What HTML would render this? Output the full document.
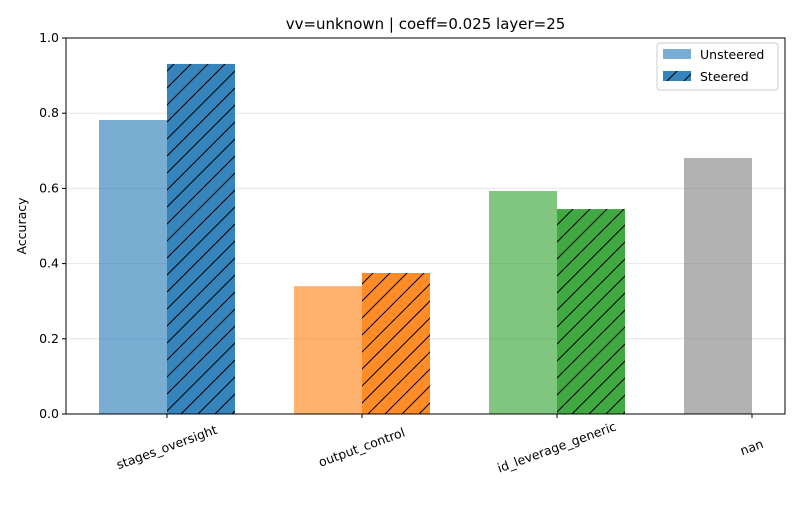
<!DOCTYPE html>
<html><head><meta charset="utf-8"><style>
body{margin:0;background:#fff;font-family:"Liberation Sans","DejaVu Sans",sans-serif;}
svg text{font-family:"DejaVu Sans","Liberation Sans",sans-serif;}
</style></head><body>
<svg id="chart" width="800" height="500">
<defs>
<pattern id="hatch" patternUnits="userSpaceOnUse" width="17" height="17">
<path d="M-4,4 l8,-8 M0,17 l17,-17 M13,21 l8,-8" stroke="#000" stroke-width="1"/>
</pattern>
</defs>
<g id="grid"></g>
<g id="bars"></g>
<g id="axes"></g>
</svg>
<script>
const categories = ["stages_oversight","output_control","id_leverage_generic","nan"];
const unsteered = [0.782, 0.340, 0.593, 0.681];
const steered = [0.931, 0.375, 0.545, null];
const yTicks = [0.0,0.2,0.4,0.6,0.8,1.0];
const baseColors = ["#1f77b4","#ff7f0e","#2ca02c","#7f7f7f"];

const L=66,R=785,T=38,B=414;
const y = v => B - (v/1.0)*(B-T);
const xc = i => 167 + 195*i;
const bw = 68;
const NS="http://www.w3.org/2000/svg";
function mk(tag, attrs, parent){const e=document.createElementNS(NS,tag);for(const k in attrs)e.setAttribute(k,attrs[k]);parent.appendChild(e);return e;}
const grid=document.getElementById('grid'), bars=document.getElementById('bars'), axes=document.getElementById('axes');

yTicks.forEach(t=>{
  const g=mk('line',{x1:L,x2:R,y1:y(t),y2:y(t),stroke:'#e6e6e6','stroke-width':1},grid);
  
  
  mk('line',{x1:L-4,x2:L,y1:y(t),y2:y(t),stroke:'#000'},axes);
  const tx=mk('text',{x:L-7,y:y(t)+4,'text-anchor':'end','font-size':12.5},axes);
  tx.textContent=t.toFixed(1);
  
  
});

categories.forEach((c,i)=>{
  const col=baseColors[i];
  if(unsteered[i]!=null){
    const r=mk('rect',{x:xc(i)-bw,y:y(unsteered[i]),width:bw,height:B-y(unsteered[i]),fill:col,'fill-opacity':0.6},bars);
    
    
  }
  if(steered[i]!=null){
    const r=mk('rect',{x:xc(i),y:y(steered[i]),width:bw,height:B-y(steered[i]),fill:col,'fill-opacity':0.9},bars);
    
    
    mk('rect',{x:xc(i),y:y(steered[i]),width:bw,height:B-y(steered[i]),fill:'url(#hatch)'},bars);
  }
  mk('line',{x1:xc(i),x2:xc(i),y1:B,y2:B+4,stroke:'#000'},axes);
  const cy=B+34;
  const tx=mk('text',{x:xc(i),y:cy,'text-anchor':'middle','dominant-baseline':'middle','font-size':12.5,transform:`rotate(-20 ${xc(i)} ${cy})`},axes);
  tx.textContent=c;
  
  
});

const frame=mk('rect',{x:L,y:T,width:R-L,height:B-T,fill:'none',stroke:'#000','stroke-width':1},axes);



const title=mk('text',{x:(L+R)/2,y:29,'text-anchor':'middle','font-size':15},axes);
title.textContent='vv=unknown | coeff=0.025 layer=25';



const yl=mk('text',{x:26,y:(T+B)/2,'text-anchor':'middle','font-size':12.5,transform:`rotate(-90 26 ${(T+B)/2})`},axes);
yl.textContent='Accuracy';



const lg=mk('g',{},axes);


mk('rect',{x:657,y:43,width:121,height:47,rx:3,fill:'#fff',stroke:'#ccc'},lg);
const e1=mk('rect',{x:663,y:49,width:28,height:10,fill:'#1f77b4','fill-opacity':0.6},lg);


const t1=mk('text',{x:700,y:59,'font-size':12.5},lg); t1.textContent='Unsteered';


const e2=mk('rect',{x:663,y:71,width:28,height:10,fill:'#1f77b4','fill-opacity':0.9},lg);


mk('rect',{x:663,y:71,width:28,height:10,fill:'url(#hatch)'},lg);
const t2=mk('text',{x:700,y:81,'font-size':12.5},lg); t2.textContent='Steered';


</script>
</body></html>
